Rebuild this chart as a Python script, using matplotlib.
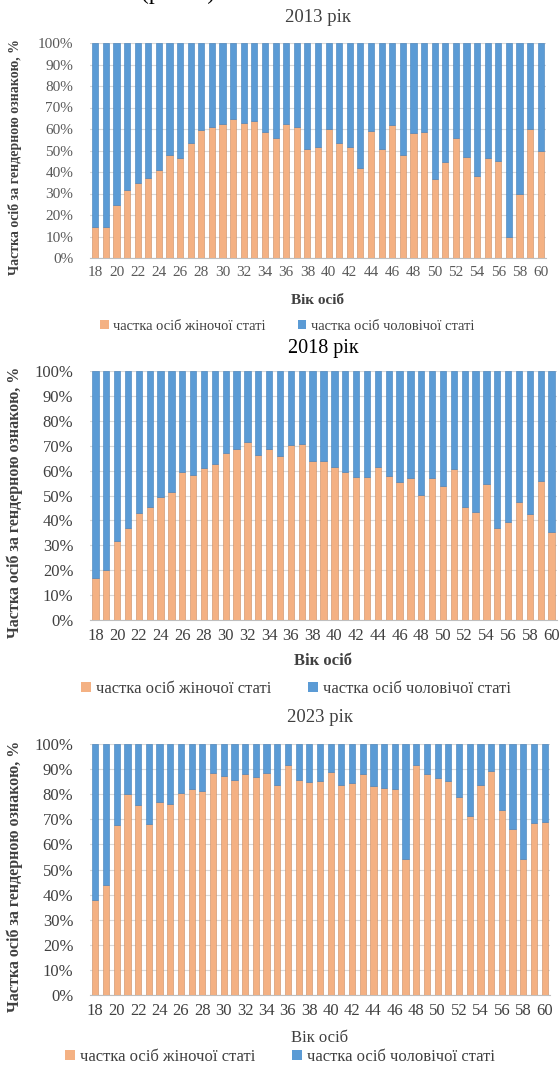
import matplotlib
matplotlib.use("Agg")
import matplotlib.pyplot as plt
import numpy as np
from matplotlib.ticker import PercentFormatter
from matplotlib.patches import Patch

ages = list(range(18, 61))

female_2013 = [14.4, 14.4, 24.7, 31.7, 35.1, 37.2, 41.0, 47.8, 46.5, 53.3, 59.5, 60.7, 62.1,
               64.5, 62.6, 63.8, 58.7, 55.6, 62.1, 60.7, 50.8, 51.5, 59.8, 53.3, 51.5, 41.7,
               58.9, 50.9, 61.8, 48.1, 58.3, 58.6, 36.8, 44.7, 56.0, 47.0, 38.3, 46.7, 45.3,
               10.0, 30.0, 60.0, 49.8]
female_2018 = [17.0, 20.1, 31.7, 37.1, 42.8, 45.5, 49.5, 51.5, 59.4, 58.2, 60.9, 62.5, 66.9,
               68.5, 71.5, 66.1, 68.7, 66.0, 70.3, 70.5, 63.8, 64.0, 61.3, 59.4, 57.3, 57.3,
               61.3, 58.0, 55.3, 57.2, 50.3, 57.2, 53.9, 60.5, 45.5, 43.5, 54.6, 37.1, 39.5,
               47.5, 42.4, 55.8, 35.3]
female_2023 = [37.8, 44.0, 67.9, 80.1, 75.8, 68.1, 76.9, 76.1, 80.6, 81.9, 81.3, 88.4, 87.3,
               85.5, 88.2, 87.0, 88.4, 83.8, 91.6, 85.8, 84.7, 85.3, 88.7, 83.7, 84.6, 87.9,
               83.3, 82.3, 82.2, 54.2, 91.8, 88.0, 86.5, 85.3, 78.9, 71.4, 83.7, 89.4, 73.6,
               66.3, 54.2, 68.5, 68.9]

years = ["2013 рік", "2018 рік", "2023 рік"]
female_label = "частка осіб жіночої статі"
male_label = "частка осіб чоловічої статі"
ylabel = "Частка осіб за гендерною ознакою, %"
xlabel = "Вік осіб"
top_note = "(рис. 1)"

ORANGE = "#F4B183"
BLUE = "#5B9BD5"
W, H = 559, 1067

plt.rcParams['font.family'] = ['Liberation Serif', 'DejaVu Serif']

fig = plt.figure(figsize=(W / 100, H / 100), dpi=100)

def px_axes(left, right, top, bottom):
    return fig.add_axes([left / W, 1 - bottom / H, (right - left) / W, (bottom - top) / H])

fig.text(178 / W, 1 + 7 / H, top_note, ha="center", va="center", fontsize=17, color="black")

panels = [
    dict(data=female_2013, box=(90, 546, 43, 258), title_y=18, title_fs=13.5, title_c="#404040",
         tick_fs=11, tick_c="#595959", yl_fs=10, xl_y=300, xl_fs=11, xl_bold=True,
         leg_y=326, leg_x=287, fs_leg=10.5),
    dict(data=female_2018, box=(90, 557, 371, 620), title_y=348, title_fs=14.5, title_c="black",
         tick_fs=12, tick_c="#404040", yl_fs=11.5, xl_y=661, xl_fs=12, xl_bold=True,
         leg_y=689, leg_x=296, fs_leg=12),
    dict(data=female_2023, box=(90, 550, 744, 995), title_y=718, title_fs=13.5, title_c="#404040",
         tick_fs=12, tick_c="#404040", yl_fs=11.5, xl_y=1038, xl_fs=12, xl_bold=False,
         leg_y=1057, leg_x=280, fs_leg=12),
]

for yr, p in zip(years, panels):
    l, r, t, b = p["box"]
    ax = px_axes(l, r, t, b)
    fem = np.array(p["data"])
    male = 100 - fem
    x = np.arange(len(ages))
    ax.bar(x, fem, width=0.58, color=ORANGE, edgecolor="#C98B60", linewidth=0.4, zorder=3)
    ax.bar(x, male, bottom=fem, width=0.58, color=BLUE, edgecolor="#3F7DB8", linewidth=0.4, zorder=3)
    ax.set_xlim(-0.5, len(ages) - 0.5)
    ax.set_ylim(0, 100)
    ax.set_yticks(np.arange(0, 101, 10))
    ax.yaxis.set_major_formatter(PercentFormatter(decimals=0))
    ax.set_xticks(x[::2])
    ax.set_xticklabels([str(a) for a in ages[::2]])
    ax.grid(axis="y", color="#D9D9D9", linewidth=0.8, zorder=0)
    for s in ["top", "right", "left"]:
        ax.spines[s].set_visible(False)
    ax.spines["bottom"].set_color("#BFBFBF")
    ax.tick_params(axis="y", length=0, labelsize=p["tick_fs"], labelcolor=p["tick_c"], pad=12)
    ax.tick_params(axis="x", length=0, labelsize=p["tick_fs"], labelcolor=p["tick_c"], pad=6)
    fig.text((l + r) / 2 / W, 1 - p["title_y"] / H, yr, ha="center", va="center",
             fontsize=p["title_fs"], color=p["title_c"])
    fig.text((l + r) / 2 / W, 1 - p["xl_y"] / H, xlabel, ha="center", va="center",
             fontsize=p["xl_fs"], color="#404040",
             fontweight="bold" if p["xl_bold"] else "normal")
    fig.text(15 / W, 1 - (t + b + 14) / 2 / H, ylabel, ha="center", va="center", rotation=90,
             fontsize=p["yl_fs"], color="#404040", fontweight="bold")
    handles = [Patch(facecolor=ORANGE), Patch(facecolor=BLUE)]
    fig.legend(handles, [female_label, male_label], loc="center",
               bbox_to_anchor=(p["leg_x"] / W, 1 - p["leg_y"] / H), ncol=2, frameon=False,
               fontsize=p["fs_leg"], handlelength=0.6, handleheight=0.6, handletextpad=0.3,
               columnspacing=2.2, labelcolor="#404040")

fig.savefig("out.png", dpi=100, facecolor="white")
